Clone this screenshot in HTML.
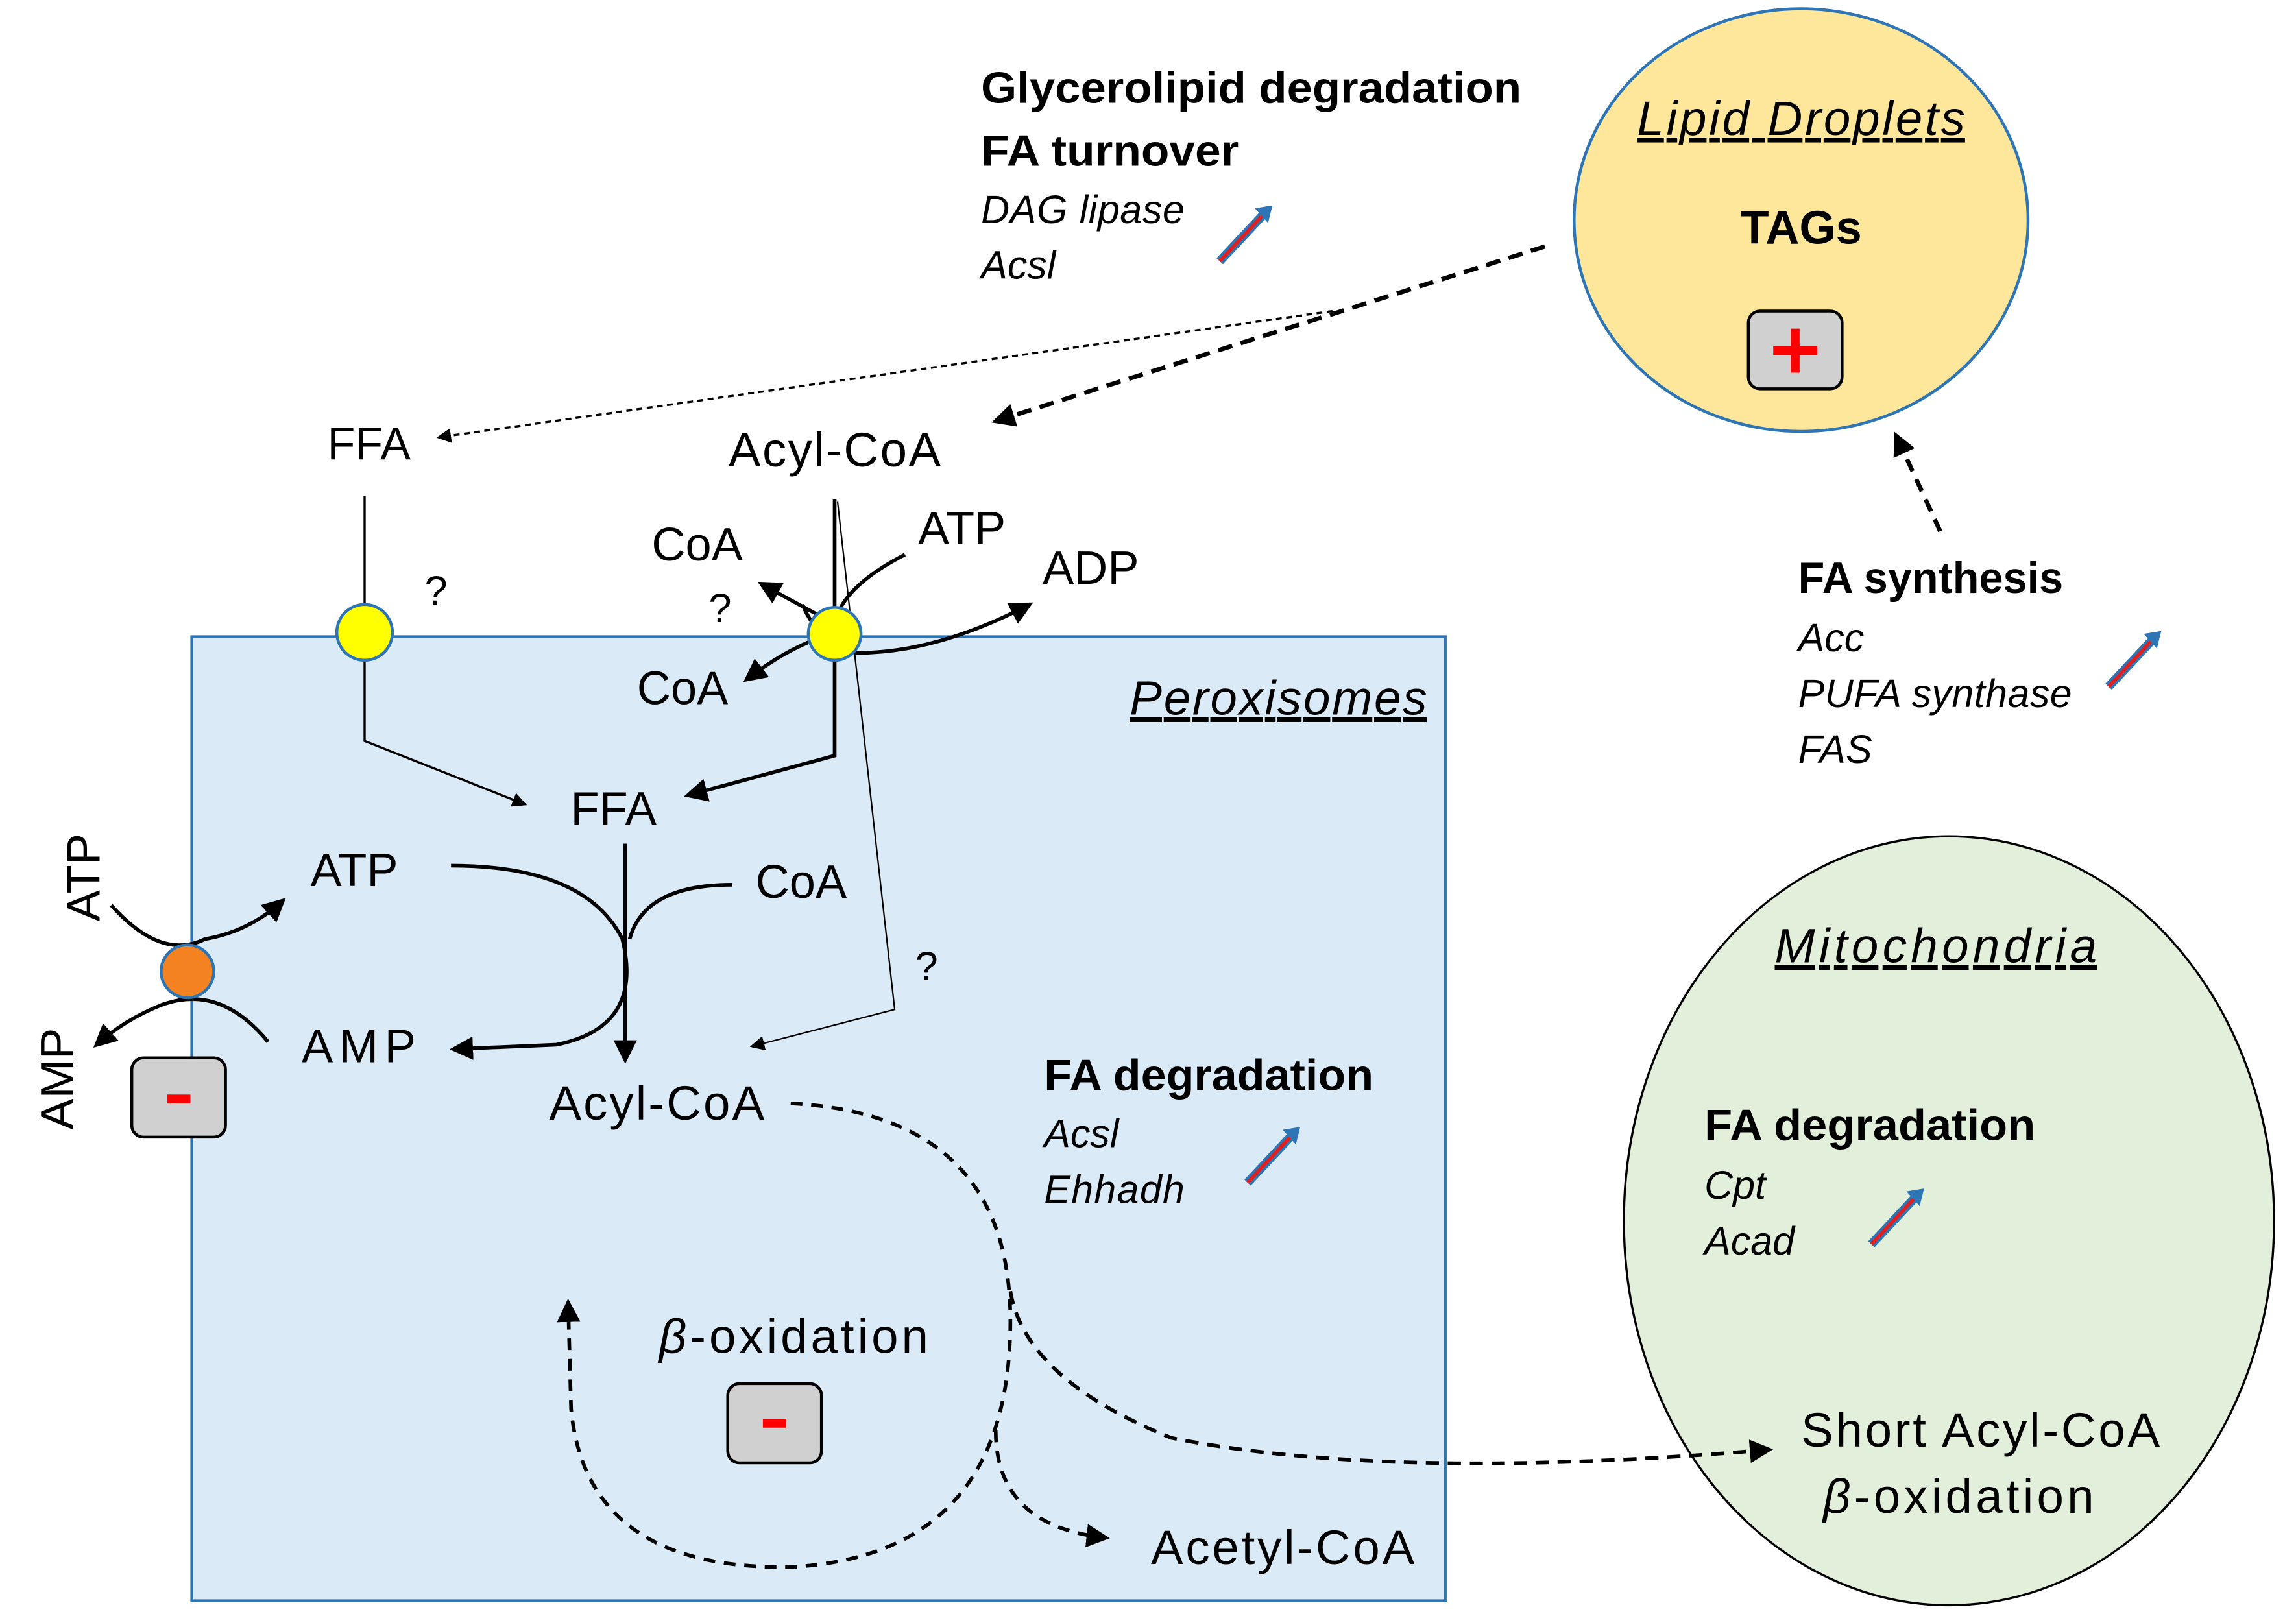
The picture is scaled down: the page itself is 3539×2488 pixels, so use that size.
<!DOCTYPE html>
<html><head><meta charset="utf-8"><style>
html,body{margin:0;padding:0;background:#fff;}
svg{display:block;}
text{font-family:"Liberation Sans","DejaVu Sans",sans-serif;fill:#000;}
</style></head><body>
<svg width="3539" height="2488" viewBox="0 0 1568 1100" preserveAspectRatio="none" xmlns="http://www.w3.org/2000/svg">
<defs>
<marker id="ah" markerWidth="10" markerHeight="10" refX="8" refY="5" orient="auto" markerUnits="userSpaceOnUse"><path d="M0,0 L10,5 L0,10 Z" fill="#000"/></marker>
<marker id="ahb" markerWidth="16" markerHeight="16" refX="13" refY="8" orient="auto" markerUnits="userSpaceOnUse"><path d="M0,0 L16,8 L0,16 Z" fill="#000"/></marker>
<g id="up">
<line x1="0" y1="0" x2="30" y2="-32" stroke="#2e75b6" stroke-width="6"/>
<line x1="0" y1="0" x2="30" y2="-32" stroke="#e02020" stroke-width="2.5"/>
<path d="M24,-36 L36,-38 L33,-26 Z" fill="#2e75b6"/>
</g>
</defs>

<rect x="131" y="434" width="856" height="657" fill="#dbeaf7" stroke="#2e75b6" stroke-width="2"/>
<ellipse cx="1230" cy="150" rx="155" ry="144" fill="#fee69a" stroke="#2e75b6" stroke-width="2"/>
<ellipse cx="1331" cy="832" rx="222" ry="262" fill="#e2efda" stroke="#000" stroke-width="1.5"/>

<text x="670" y="70" font-size="30" font-weight="bold" textLength="369" lengthAdjust="spacingAndGlyphs">Glycerolipid degradation</text>
<text x="670" y="113" font-size="30" font-weight="bold" textLength="176" lengthAdjust="spacingAndGlyphs">FA turnover</text>
<text x="670" y="152" font-size="27" font-style="italic" textLength="139">DAG lipase</text>
<text x="670" y="190" font-size="27" font-style="italic">Acsl</text>
<use href="#up" x="833" y="178"/>

<text x="1230" y="92" font-size="33" font-style="italic" text-anchor="middle" text-decoration="underline" textLength="224">Lipid Droplets</text>
<text x="1230" y="166" font-size="32" font-weight="bold" text-anchor="middle">TAGs</text>
<rect x="1194" y="212" width="64" height="53" rx="8" fill="#d0d0d0" stroke="#000" stroke-width="2"/>
<path d="M1226,224 V254 M1211,239 H1241" stroke="#f00" stroke-width="6"/>

<text x="1228" y="404" font-size="30" font-weight="bold" textLength="181" lengthAdjust="spacingAndGlyphs">FA synthesis</text>
<text x="1228" y="444" font-size="27" font-style="italic">Acc</text>
<text x="1228" y="482" font-size="27" font-style="italic" textLength="187">PUFA synthase</text>
<text x="1228" y="520" font-size="27" font-style="italic">FAS</text>
<use href="#up" x="1440" y="468"/>
<line x1="1325" y1="362" x2="1295" y2="297" stroke="#000" stroke-width="3" stroke-dasharray="9,6" marker-end="url(#ahb)"/>

<line x1="1055" y1="168" x2="680" y2="287" stroke="#000" stroke-width="3" stroke-dasharray="10,6" marker-end="url(#ahb)"/>
<line x1="910" y1="212" x2="300" y2="298" stroke="#000" stroke-width="1.5" stroke-dasharray="4,3" marker-end="url(#ah)"/>

<text x="252" y="313" font-size="31" text-anchor="middle">FFA</text>
<text x="570" y="318" font-size="33" text-anchor="middle" textLength="145">Acyl-CoA</text>
<text x="445" y="382" font-size="32">CoA</text>
<text x="627" y="371" font-size="32">ATP</text>
<text x="712" y="398" font-size="32">ADP</text>
<text x="435" y="480" font-size="32">CoA</text>
<text x="290" y="412" font-size="28">?</text>
<text x="484" y="424" font-size="28">?</text>
<text x="625" y="668" font-size="28">?</text>

<path d="M249,338 V505 L358,548" fill="none" stroke="#000" stroke-width="1.5" marker-end="url(#ah)"/>
<path d="M570,340 V515 L470,542" fill="none" stroke="#000" stroke-width="2.5" marker-end="url(#ahb)"/>
<path d="M572,342 L611,688 L514,713" fill="none" stroke="#000" stroke-width="1" marker-end="url(#ah)"/>
<path d="M618,378 Q575,400 570,425 Q560,420 520,398" fill="none" stroke="#000" stroke-width="2.5" marker-end="url(#ahb)"/>
<path d="M548,412 Q560,440 585,445 Q640,445 703,412" fill="none" stroke="#000" stroke-width="2.5" marker-end="url(#ahb)"/>
<path d="M568,432 Q540,440 510,463" fill="none" stroke="#000" stroke-width="2.5" marker-end="url(#ahb)"/>

<circle cx="249" cy="431" r="19" fill="#ffff00" stroke="#2e75b6" stroke-width="2"/>
<circle cx="570" cy="432" r="18" fill="#ffff00" stroke="#2e75b6" stroke-width="2"/>

<text x="873" y="487" font-size="33" font-style="italic" text-anchor="middle" text-decoration="underline" textLength="203">Peroxisomes</text>

<text x="419" y="562" font-size="32" text-anchor="middle">FFA</text>
<text x="212" y="604" font-size="32">ATP</text>
<text x="516" y="612" font-size="32">CoA</text>
<text x="206" y="724" font-size="32" textLength="78">AMP</text>
<text x="375" y="763" font-size="33" textLength="147">Acyl-CoA</text>

<line x1="427" y1="575" x2="427" y2="722" stroke="#000" stroke-width="2.5" marker-end="url(#ahb)"/>
<path d="M308,590 Q400,590 425,640 Q440,700 380,712 L310,715" fill="none" stroke="#000" stroke-width="2.5" marker-end="url(#ahb)"/>
<path d="M500,603 Q440,603 430,640" fill="none" stroke="#000" stroke-width="2.5"/>

<path d="M76,617 Q110,655 140,640 Q170,635 193,614" fill="none" stroke="#000" stroke-width="2.5" marker-end="url(#ahb)"/>
<path d="M183,710 Q150,670 110,685 Q85,695 66,712" fill="none" stroke="#000" stroke-width="2.5" marker-end="url(#ahb)"/>
<circle cx="128" cy="662" r="18" fill="#f58220" stroke="#2e75b6" stroke-width="2"/>
<text transform="translate(68,628) rotate(-90)" font-size="32">ATP</text>
<text transform="translate(50,770) rotate(-90)" font-size="32">AMP</text>
<rect x="90" y="721" width="64" height="54" rx="8" fill="#d0d0d0" stroke="#000" stroke-width="2"/>
<rect x="114" y="746" width="16" height="6" fill="#f00"/>

<text x="713" y="743" font-size="30" font-weight="bold" textLength="225" lengthAdjust="spacingAndGlyphs">FA degradation</text>
<text x="713" y="782" font-size="27" font-style="italic">Acsl</text>
<text x="713" y="820" font-size="27" font-style="italic" textLength="96">Ehhadh</text>
<use href="#up" x="852" y="806"/>

<path d="M540,752 Q690,760 690,900 Q690,1060 540,1068 Q400,1070 390,960 L388,888" fill="none" stroke="#000" stroke-width="2.5" stroke-dasharray="8,6" marker-end="url(#ahb)"/>
<path d="M680,975 Q680,1040 755,1048" fill="none" stroke="#000" stroke-width="2.5" stroke-dasharray="8,6" marker-end="url(#ahb)"/>
<path d="M690,880 Q700,940 800,980 Q950,1010 1208,988" fill="none" stroke="#000" stroke-width="2.5" stroke-dasharray="9,6" marker-end="url(#ahb)"/>

<text x="450" y="922" font-size="33" textLength="184"><tspan font-style="italic">β</tspan>-oxidation</text>
<rect x="497" y="943" width="64" height="54" rx="8" fill="#d0d0d0" stroke="#000" stroke-width="2"/>
<rect x="521" y="967" width="16" height="6" fill="#f00"/>
<text x="786" y="1066" font-size="33" textLength="180">Acetyl-CoA</text>

<text x="1322" y="656" font-size="33" font-style="italic" text-anchor="middle" text-decoration="underline" textLength="220">Mitochondria</text>
<text x="1164" y="777" font-size="30" font-weight="bold" textLength="226" lengthAdjust="spacingAndGlyphs">FA degradation</text>
<text x="1164" y="817" font-size="27" font-style="italic">Cpt</text>
<text x="1164" y="855" font-size="27" font-style="italic">Acad</text>
<use href="#up" x="1278" y="848"/>
<text x="1230" y="986" font-size="33" textLength="245">Short Acyl-CoA</text>
<text x="1245" y="1031" font-size="33" textLength="185"><tspan font-style="italic">β</tspan>-oxidation</text>
</svg>
</body></html>
